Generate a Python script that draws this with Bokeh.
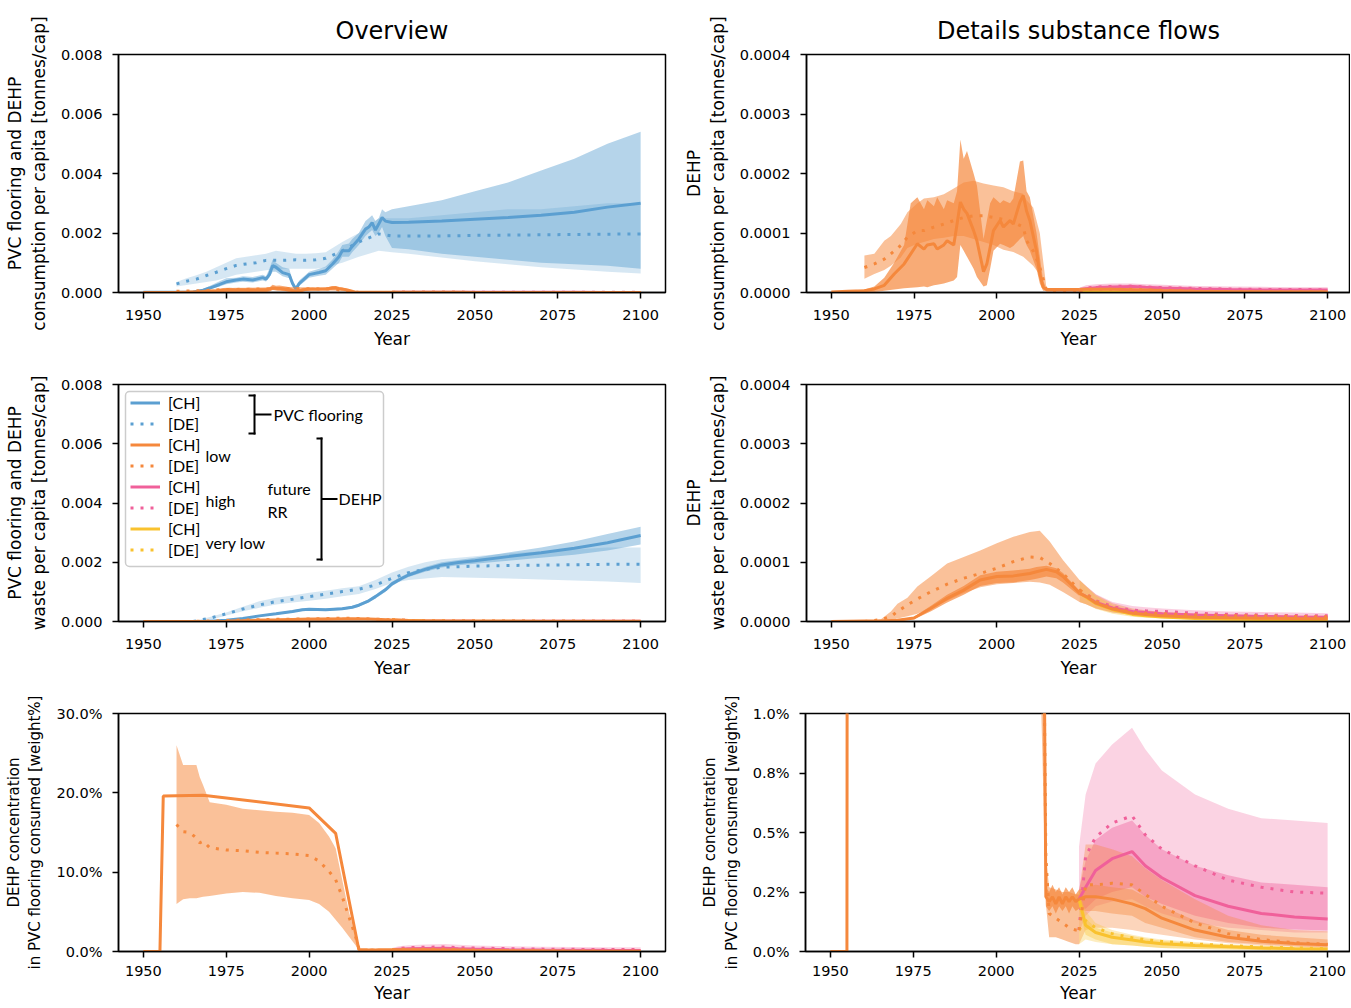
from bokeh.plotting import figure
from bokeh.layouts import column, row
from bokeh.models import (FixedTicker, NumeralTickFormatter, Range1d, Legend, LegendItem,
                          BoxAnnotation, Label)
from bokeh.embed import file_html
from bokeh.resources import INLINE

# ---------------------------------------------------------------- data
YEAR_TICKS = [1950, 1975, 2000, 2025, 2050, 2075, 2100]

# PVC flooring consumption per capita [t/cap]
pvc_con_ch_years = [1950, 1960, 1965, 1968, 1970, 1973, 1975, 1978, 1980, 1983, 1986, 1987, 1988, 1989, 1990,
                    1992, 1994, 1995, 1996, 1997, 1999, 2000, 2003, 2005, 2007, 2009, 2010, 2012, 2013, 2015,
                    2017, 2018, 2019, 2020, 2021, 2022, 2023, 2025, 2030, 2040, 2050, 2060, 2070, 2080, 2090, 2100]
pvc_con_ch = [0.00001, 0.00001, 0.00002, 0.00008, 0.00015, 0.00027, 0.00036, 0.00042, 0.00045, 0.00042,
              0.0005, 0.00045, 0.0006, 0.0009, 0.00085, 0.00067, 0.0006, 0.0003, 0.00012, 0.0003,
              0.0005, 0.0006, 0.00067, 0.00073, 0.00095, 0.0012, 0.0014, 0.0014, 0.00155, 0.0018,
              0.00213, 0.0022, 0.00235, 0.0021, 0.0023, 0.00252, 0.0024, 0.00235, 0.00236, 0.0024,
              0.00246, 0.00252, 0.0026, 0.0027, 0.00287, 0.003]
pvc_con_ch_lo = [0, 0, 0.00001, 0.00004, 0.0001, 0.0002, 0.00028, 0.00034, 0.00036, 0.00034,
                 0.0004, 0.00037, 0.0005, 0.0007, 0.0007, 0.00055, 0.00048, 0.0002, 0.00005, 0.00022,
                 0.0004, 0.0005, 0.00056, 0.0006, 0.0008, 0.001, 0.0012, 0.0012, 0.00135, 0.0016,
                 0.0019, 0.002, 0.0021, 0.0019, 0.002, 0.0022, 0.0019, 0.0015, 0.00145, 0.0013,
                 0.0012, 0.0011, 0.001, 0.00095, 0.0009, 0.0008]
pvc_con_ch_hi = [0.00002, 0.00002, 0.00004, 0.00012, 0.00022, 0.00038, 0.00048, 0.0005, 0.00055, 0.00052,
                 0.0006, 0.00055, 0.0008, 0.0011, 0.001, 0.00085, 0.0008, 0.0004, 0.0002, 0.0004,
                 0.0006, 0.0007, 0.0008, 0.00087, 0.0011, 0.0014, 0.0016, 0.00165, 0.0018, 0.002,
                 0.0024, 0.0025, 0.0026, 0.0024, 0.0025, 0.0028, 0.0027, 0.0028, 0.0029, 0.0031,
                 0.0034, 0.0037, 0.0041, 0.0045, 0.005, 0.0054]
pvc_con_de_years = [1960, 1963, 1966, 1969, 1972, 1975, 1978, 1981, 1984, 1987, 1990, 1993, 1996, 1999,
                    2002, 2005, 2010, 2015, 2021, 2025, 2030, 2040, 2050, 2060, 2070, 2080, 2090, 2100]
pvc_con_de = [0.00029, 0.00038, 0.00045, 0.00057, 0.00068, 0.0008, 0.00091, 0.00096, 0.001, 0.00108,
              0.00108, 0.00108, 0.0011, 0.00108, 0.0011, 0.00115, 0.0014, 0.0017, 0.00197, 0.0019,
              0.0019, 0.0019, 0.00192, 0.00193, 0.00194, 0.00195, 0.00196, 0.00197]
pvc_con_de_lo = [0.0002, 0.00025, 0.0003, 0.00035, 0.0004, 0.0005, 0.0006, 0.00065, 0.0007, 0.00075,
                 0.00078, 0.0008, 0.0008, 0.0008, 0.0008, 0.00085, 0.001, 0.0012, 0.0014, 0.00135,
                 0.0013, 0.00118, 0.00105, 0.00095, 0.00085, 0.00077, 0.0007, 0.00064]
pvc_con_de_hi = [0.00035, 0.00048, 0.00058, 0.0007, 0.00085, 0.001, 0.00115, 0.0012, 0.00125, 0.0013,
                 0.0014, 0.00135, 0.0013, 0.0013, 0.00132, 0.00135, 0.0017, 0.002, 0.0025, 0.0025,
                 0.0025, 0.0026, 0.0027, 0.0028, 0.0028, 0.0029, 0.003, 0.003]

# PVC flooring waste per capita [t/cap]
pvc_was_ch_years = [1950, 1965, 1970, 1975, 1980, 1985, 1990, 1995, 1998, 2000, 2005, 2010, 2013, 2015, 2018,
                    2020, 2023, 2025, 2028, 2030, 2035, 2040, 2045, 2050, 2060, 2070, 2080, 2090, 2100]
pvc_was_ch = [0, 0, 0.00001, 0.00004, 0.0001, 0.00019, 0.00026, 0.00034, 0.0004, 0.00041, 0.0004, 0.00043,
              0.00048, 0.00055, 0.0007, 0.00084, 0.00107, 0.00127, 0.00146, 0.00157, 0.00176, 0.00191,
              0.00199, 0.00205, 0.00219, 0.00232, 0.00247, 0.00266, 0.0029]
pvc_was_ch_lo = [0, 0, 0, 0.00003, 0.00008, 0.00016, 0.00023, 0.0003, 0.00036, 0.00037, 0.00036, 0.00039,
                 0.00044, 0.0005, 0.00065, 0.00078, 0.001, 0.0012, 0.00139, 0.0015, 0.00168, 0.00182,
                 0.0019, 0.00195, 0.00205, 0.00215, 0.00225, 0.0024, 0.0026]
pvc_was_ch_hi = [0, 0.00001, 0.00002, 0.00005, 0.00012, 0.00022, 0.00029, 0.00038, 0.00044, 0.00045,
                 0.00044, 0.00047, 0.00052, 0.0006, 0.00075, 0.0009, 0.00114, 0.00134, 0.00153, 0.00164,
                 0.00184, 0.002, 0.00208, 0.00215, 0.00233, 0.0025, 0.0027, 0.00295, 0.0032]
pvc_was_de_years = [1965, 1970, 1975, 1980, 1985, 1990, 1995, 2000, 2005, 2010, 2015, 2020, 2025, 2030,
                    2035, 2040, 2050, 2060, 2075, 2090, 2100]
pvc_was_de = [0, 0.00011, 0.00026, 0.00042, 0.00056, 0.00067, 0.00075, 0.00084, 0.00092, 0.00101, 0.00109,
              0.00123, 0.00146, 0.00165, 0.00176, 0.00183, 0.00187, 0.00189, 0.00191, 0.00193, 0.00193]
pvc_was_de_lo = [0, 0.00005, 0.0002, 0.00035, 0.00046, 0.00057, 0.00064, 0.0007, 0.00077, 0.00085, 0.00093,
                 0.0011, 0.0013, 0.0014, 0.00145, 0.0015, 0.00148, 0.00145, 0.0014, 0.00135, 0.0013]
pvc_was_de_hi = [0, 0.00015, 0.0003, 0.0005, 0.00068, 0.0008, 0.00088, 0.00097, 0.00104, 0.00112, 0.00119,
                 0.0014, 0.00165, 0.00185, 0.002, 0.0021, 0.0022, 0.0023, 0.0024, 0.0025, 0.0025]

# DEHP consumption per capita [t/cap], historic
dehp_con_ch_years = [1950, 1955, 1960, 1963, 1966, 1969, 1972, 1974, 1976, 1978, 1979, 1981, 1982, 1984, 1985,
                     1987, 1988, 1989, 1990, 1991, 1993, 1994, 1996, 1997, 1998, 1999, 2001, 2002, 2004, 2005,
                     2007, 2008, 2009, 2010, 2012, 2013, 2014, 2015, 2020, 2025]
dehp_con_ch = [0.000001, 0.000002, 0.000003, 0.000006, 0.000012, 0.000031, 0.000048, 0.000065, 0.000082,
               0.000073, 0.00008, 0.000082, 0.000073, 0.00008, 0.000087, 0.00008, 0.000115, 0.000152,
               0.00014, 0.000133, 0.000104, 0.000087, 0.000035, 0.000048, 0.000076, 0.000104, 0.000121,
               0.00011, 0.000121, 0.000115, 0.000152, 0.000163, 0.000137, 0.000121, 0.00007, 0.000031,
               0.000009, 0.000005, 0.000005, 0.000005]
dehp_con_ch_lo = [0, 0, 0, 0.000001, 0.000003, 0.000005, 0.000007, 0.000008, 0.000009, 0.00001, 0.000009,
                  0.000012, 0.000013, 0.000015, 0.000017, 0.00002, 0.000026, 0.00008, 0.00007, 0.00006,
                  0.00004, 0.000026, 0.00001, 0.000012, 0.00004, 0.00007, 0.000082, 0.00008, 0.000075,
                  0.000078, 0.00009, 0.000095, 0.00008, 0.00007, 0.00004, 0.000015, 0.000003, 0.000003,
                  0.000003, 0.000003]
dehp_con_ch_hi = [0.000002, 0.000003, 0.000005, 0.00001, 0.000025, 0.00005, 0.00008, 0.00015, 0.00016,
                  0.00014, 0.000155, 0.000145, 0.00016, 0.00014, 0.000155, 0.00015, 0.00017, 0.000257,
                  0.000225, 0.000238, 0.0002, 0.00018, 0.00009, 0.00012, 0.00015, 0.00016, 0.00015,
                  0.000155, 0.00015, 0.000158, 0.00022, 0.000222, 0.00017, 0.00016, 0.0001, 0.00006,
                  0.00002, 0.000006, 0.000007, 0.000007]
dehp_con_de_years = [1960, 1963, 1966, 1968, 1971, 1973, 1976, 1978, 1981, 1984, 1987, 1990, 1993, 1996,
                     1999, 2002, 2005, 2008, 2009, 2011, 2013, 2015, 2020, 2025]
dehp_con_de = [0.000042, 0.000048, 0.000056, 0.000065, 0.000079, 0.000093, 0.000104, 0.000104, 0.00011,
               0.000115, 0.000121, 0.000126, 0.000129, 0.000129, 0.000126, 0.000123, 0.000118, 0.00011,
               0.000087, 0.00007, 0.0000425, 0.000004, 0.000002, 0.0000017]
dehp_con_de_lo = [0.000023, 0.000031, 0.000038, 0.000045, 0.000059, 0.000075, 0.000082, 0.000085, 0.00009,
                  0.000092, 0.000095, 0.000095, 0.00009, 0.000085, 0.00008, 0.000072, 0.000068, 0.00006,
                  0.000055, 0.000045, 0.00003, 0.000001, 0.000001, 0.000001]
dehp_con_de_hi = [0.000062, 0.000065, 0.000087, 0.000095, 0.000115, 0.000135, 0.00015, 0.000158, 0.00016,
                  0.000165, 0.000175, 0.000185, 0.000188, 0.000183, 0.00018, 0.000177, 0.00017, 0.000166,
                  0.000155, 0.000143, 0.0001, 0.000008, 0.000004, 0.000003]

# DEHP waste per capita [t/cap], historic
dehp_was_ch_years = [1950, 1960, 1965, 1970, 1975, 1980, 1985, 1990, 1995, 2000, 2005, 2010, 2012, 2015,
                     2018, 2020, 2025]
dehp_was_ch = [0, 0.000001, 0.000001, 0.000002, 0.000006, 0.000022, 0.000039, 0.000053, 0.00007, 0.000076,
               0.000077, 0.000081, 0.000084, 0.000088, 0.000084, 0.000076, 0.000048]
dehp_was_ch_lo = [0, 0, 0, 0.000001, 0.000004, 0.000017, 0.000032, 0.000045, 0.00006, 0.000065, 0.000066,
                  0.00007, 0.000072, 0.000076, 0.000073, 0.000066, 0.000043]
dehp_was_ch_hi = [0, 0.000001, 0.000002, 0.000003, 0.000008, 0.000026, 0.000045, 0.00006, 0.000078,
                  0.000084, 0.000086, 0.000089, 0.000092, 0.000094, 0.00009, 0.000082, 0.000052]
dehp_was_de_years = [1960, 1965, 1968, 1970, 1973, 1976, 1980, 1985, 1990, 1995, 2000, 2005, 2010, 2013,
                     2016, 2020, 2025]
dehp_was_de = [0, 0.000003, 0.0000085, 0.000017, 0.000028, 0.000038, 0.00005, 0.000063, 0.000073, 0.000081,
               0.00009, 0.000101, 0.000109, 0.000108, 0.000098, 0.000081, 0.000053]
dehp_was_de_lo = [0, 0, 0.000002, 0.000005, 0.000009, 0.000013, 0.000022, 0.000035, 0.000048, 0.000058,
                  0.000063, 0.000065, 0.000067, 0.000066, 0.000062, 0.00005, 0.000033]
dehp_was_de_hi = [0, 0.000004, 0.000017, 0.00003, 0.00004, 0.000059, 0.000076, 0.000098, 0.000109, 0.00012,
                  0.000132, 0.000143, 0.000151, 0.000153, 0.000135, 0.000104, 0.00007]

# DEHP concentration in PVC flooring consumed [weight fraction], historic
conc_ch_years = [1950, 1955, 1956, 1968, 2000, 2008, 2015, 2016, 2017, 2018, 2019, 2020, 2021, 2022, 2023,
                 2024, 2025]
conc_ch = [0, 0, 0.196, 0.197, 0.181, 0.149, 0.0023, 0.0021, 0.0023, 0.002, 0.0023, 0.002, 0.0023, 0.0021,
           0.0023, 0.0021, 0.0022]
conc_ch_band_years = [2015, 2016, 2017, 2018, 2019, 2020, 2021, 2022, 2023, 2024, 2025]
conc_ch_lo = [0.0019, 0.0017, 0.0019, 0.0016, 0.0019, 0.0017, 0.0019, 0.0016, 0.0019, 0.0017, 0.0018]
conc_ch_hi = [0.0027, 0.0025, 0.0028, 0.0025, 0.0027, 0.0024, 0.0027, 0.0025, 0.0027, 0.0024, 0.0026]
conc_de_years = [1960, 1962, 1964, 1966, 1967, 1968, 1970, 1975, 1980, 1985, 1990, 1995, 2000, 2003, 2006,
                 2008, 2010, 2012, 2014, 2015, 2016, 2018, 2020, 2022, 2024, 2025]
conc_de = [0.16, 0.151, 0.15, 0.143, 0.137, 0.139, 0.131, 0.128, 0.127, 0.125, 0.124, 0.123, 0.121, 0.114,
           0.101, 0.0905, 0.069, 0.044, 0.019, 0.004, 0.0016, 0.0014, 0.0012, 0.001, 0.0009, 0.0009]
conc_de_lo = [0.06, 0.066, 0.067, 0.067, 0.068, 0.069, 0.07, 0.073, 0.075, 0.074, 0.07, 0.067, 0.065, 0.06,
              0.05, 0.04, 0.03, 0.019, 0.008, 0.002, 0.0006, 0.0006, 0.0005, 0.0004, 0.0003, 0.0003]
conc_de_hi = [0.26, 0.235, 0.235, 0.235, 0.22, 0.21, 0.188, 0.185, 0.18, 0.178, 0.176, 0.175, 0.172, 0.162,
              0.145, 0.13, 0.09, 0.05, 0.02, 0.004, 0.0027, 0.0026, 0.0025, 0.0025, 0.0024, 0.0024]

# future recycling-rate scenarios (low / high / very low), common years
fut_years = [2025, 2027, 2030, 2035, 2041, 2045, 2050, 2060, 2070, 2080, 2090, 2100]

con_high_ch = [0.000005, 0.0000063, 0.0000082, 0.0000094, 0.00001, 0.0000087, 0.0000076, 0.0000059, 0.0000049, 0.0000044, 0.0000042, 0.0000041]
con_high_de = [0.0000017, 0.0000077, 0.0000093, 0.0000103, 0.0000108, 0.0000093, 0.0000082, 0.0000068, 0.0000058, 0.0000052, 0.0000049, 0.0000048]
con_low_ch = [0.000005, 0.0000054, 0.0000055, 0.0000053, 0.0000048, 0.0000043, 0.0000034, 0.0000023, 0.0000015, 0.0000011, 0.0000009, 0.0000008]
con_low_de = [0.0000017, 0.0000053, 0.0000053, 0.0000055, 0.0000053, 0.0000046, 0.0000036, 0.0000023, 0.0000015, 0.000001, 0.0000007, 0.0000006]
con_vlow_ch = [0.000005, 0.0000026, 0.0000019, 0.0000014, 0.0000012, 0.000001, 0.0000008, 0.0000006, 0.0000005, 0.0000004, 0.0000003, 0.0000003]
con_vlow_de = [0.0000017, 0.0000025, 0.0000019, 0.0000014, 0.0000011, 0.000001, 0.0000008, 0.0000006, 0.0000005, 0.0000004, 0.0000003, 0.0000002]
con_high_lo = [0.000003, 0.0000035, 0.000004, 0.0000045, 0.0000048, 0.0000043, 0.0000037, 0.000003, 0.0000025, 0.0000022, 0.000002, 0.000002]
con_high_hi = [0.000008, 0.000012, 0.000014, 0.000015, 0.000015, 0.000014, 0.000013, 0.000011, 0.00001, 0.0000095, 0.000009, 0.0000088]
con_low_lo = [0.000001, 0.0000015, 0.0000016, 0.0000016, 0.0000015, 0.0000013, 0.000001, 0.0000007, 0.0000005, 0.0000004, 0.0000003, 0.0000002]
con_low_hi = [0.000008, 0.0000085, 0.0000085, 0.000008, 0.0000075, 0.0000067, 0.0000055, 0.0000038, 0.0000026, 0.000002, 0.0000017, 0.0000016]
con_vlow_lo = [0.000001, 0.0000012, 0.0000009, 0.0000007, 0.0000006, 0.0000005, 0.0000004, 0.0000003, 0.00000025, 0.0000002, 0.00000015, 0.0000001]
con_vlow_hi = [0.000008, 0.0000045, 0.0000035, 0.0000027, 0.0000022, 0.000002, 0.0000017, 0.0000013, 0.000001, 0.0000008, 0.0000007, 0.0000006]

was_high_ch = [0.000048, 0.000042, 0.000032, 0.000023, 0.000017, 0.000015, 0.000013, 0.000011, 0.0000095, 0.0000085, 0.0000078, 0.0000072]
was_high_de = [0.000053, 0.000047, 0.000035, 0.000025, 0.000019, 0.000018, 0.000017, 0.000014, 0.000012, 0.000011, 0.00001, 0.0000095]
was_low_ch = [0.000048, 0.000042, 0.000031, 0.000021, 0.000014, 0.000012, 0.0000095, 0.0000073, 0.0000063, 0.0000056, 0.000005, 0.0000045]
was_low_de = [0.000053, 0.000046, 0.000034, 0.000022, 0.000016, 0.000014, 0.000013, 0.000011, 0.00001, 0.0000095, 0.0000085, 0.0000079]
was_vlow_ch = [0.000048, 0.000041, 0.00003, 0.00002, 0.000012, 0.0000095, 0.0000075, 0.000005, 0.000004, 0.0000035, 0.000003, 0.0000026]
was_vlow_de = [0.000053, 0.000046, 0.000033, 0.00002, 0.000013, 0.000011, 0.0000088, 0.0000064, 0.0000052, 0.0000045, 0.000004, 0.0000036]
was_high_lo = [0.000033, 0.000029, 0.000022, 0.000015, 0.000011, 0.0000095, 0.0000085, 0.000007, 0.000006, 0.0000055, 0.000005, 0.0000048]
was_high_hi = [0.00007, 0.00006, 0.000046, 0.000033, 0.000026, 0.000024, 0.000022, 0.000019, 0.000017, 0.000016, 0.000015, 0.000014]
was_low_lo = [0.000033, 0.000029, 0.000022, 0.000015, 0.000011, 0.0000085, 0.000007, 0.0000055, 0.0000048, 0.0000044, 0.000004, 0.0000037]
was_low_hi = [0.00007, 0.00006, 0.000045, 0.000031, 0.000022, 0.000019, 0.000016, 0.000013, 0.000012, 0.000011, 0.00001, 0.0000095]
was_vlow_lo = [0.000033, 0.000029, 0.000021, 0.000013, 0.000008, 0.0000065, 0.000005, 0.0000035, 0.000003, 0.0000025, 0.0000022, 0.000002]
was_vlow_hi = [0.00007, 0.000059, 0.000043, 0.000028, 0.000018, 0.000014, 0.000011, 0.000008, 0.0000065, 0.0000057, 0.0000052, 0.0000048]

conc_high_ch = [0.0022, 0.0027, 0.0034, 0.0039, 0.0042, 0.0036, 0.0031, 0.00235, 0.0019, 0.0016, 0.00145, 0.00137]
conc_high_de = [0.0009, 0.004, 0.0048, 0.0054, 0.0057, 0.0049, 0.0043, 0.0036, 0.003, 0.0027, 0.0025, 0.00245]
conc_low_ch = [0.0022, 0.0023, 0.0023, 0.0022, 0.002, 0.0018, 0.0014, 0.0009, 0.0006, 0.00043, 0.00034, 0.00028]
conc_low_de = [0.0009, 0.0028, 0.0028, 0.00287, 0.0028, 0.0024, 0.0019, 0.0012, 0.00075, 0.0005, 0.00037, 0.0003]
conc_vlow_ch = [0.0022, 0.0011, 0.0008, 0.0006, 0.00048, 0.0004, 0.00033, 0.00025, 0.0002, 0.00015, 0.00012, 0.0001]
conc_vlow_de = [0.0009, 0.0013, 0.001, 0.00075, 0.00058, 0.0005, 0.00042, 0.00032, 0.00025, 0.00019, 0.00015, 0.00012]
conc_high_de_lo = [0.0008, 0.0015, 0.0019, 0.0021, 0.0022, 0.0019, 0.0016, 0.0012, 0.001, 0.0009, 0.0008, 0.0008]
conc_high_de_hi = [0.0044, 0.0066, 0.0079, 0.0087, 0.0094, 0.0085, 0.0076, 0.0066, 0.006, 0.0056, 0.0055, 0.0054]
conc_high_ch_lo = [0.0018, 0.0018, 0.0022, 0.0025, 0.0027, 0.0023, 0.002, 0.0015, 0.0012, 0.001, 0.00092, 0.00088]
conc_high_ch_hi = [0.0026, 0.0038, 0.0047, 0.0052, 0.0055, 0.0049, 0.0043, 0.0036, 0.0032, 0.0029, 0.0028, 0.0027]
conc_low_de_lo = [0.0003, 0.0009, 0.001, 0.001, 0.0009, 0.0008, 0.0007, 0.0005, 0.00035, 0.00025, 0.0002, 0.00015]
conc_low_de_hi = [0.0025, 0.0045, 0.0045, 0.0043, 0.004, 0.0035, 0.003, 0.0022, 0.0015, 0.0011, 0.0009, 0.00085]
conc_low_ch_lo = [0.0018, 0.0017, 0.0017, 0.0016, 0.0015, 0.0012, 0.001, 0.0006, 0.0004, 0.0003, 0.00022, 0.00018]
conc_low_ch_hi = [0.0026, 0.0027, 0.0028, 0.0027, 0.0026, 0.0023, 0.0019, 0.0013, 0.0009, 0.0007, 0.0006, 0.0005]
conc_vlow_de_lo = [0.0003, 0.0005, 0.0004, 0.0003, 0.00025, 0.0002, 0.00015, 0.0001, 0.00008, 0.00006, 0.00005, 0.00004]
conc_vlow_de_hi = [0.0025, 0.0017, 0.0012, 0.0009, 0.0007, 0.0006, 0.0005, 0.0004, 0.0003, 0.00025, 0.0002, 0.00018]
conc_vlow_ch_lo = [0.0018, 0.0007, 0.0005, 0.0003, 0.00025, 0.0002, 0.00015, 0.0001, 0.00008, 0.00006, 0.00005, 0.00004]
conc_vlow_ch_hi = [0.0026, 0.0014, 0.001, 0.0008, 0.00065, 0.00055, 0.00045, 0.00035, 0.00028, 0.00022, 0.00018, 0.00015]

# ---------------------------------------------------------------- style
FONT = "DejaVu Sans"
LFONT = "Lato"
BLUE = "#5b9fd1"
ORANGE = "#f5883c"
PINK = "#f0609a"
YELLOW = "#f9c22e"
DOT = "3 7"
LW = 3

X0 = 1942.5
XL_END = 2107.5

WL, WR = 680, 670
BL_L, BR_L, BL_R, BR_R = 118, 15, 125, 0
FW = WL - BL_L - BR_L
XR_END = X0 + (WR - BL_R - BR_R) * (XL_END - X0) / FW
H1, H2, H3 = 354, 330, 323


def make_fig(w, h, bl, br, bt, bb, x_end, y_end, yticks, ylabel, yfmt, overrides=None,
             title=None, xstand=(11, 6), ylab_size="17px"):
    kw = dict(width=w, height=h, x_range=Range1d(X0, x_end), y_range=Range1d(0, y_end),
              output_backend="svg", toolbar_location=None,
              min_border_left=bl, min_border_right=br, min_border_top=bt, min_border_bottom=bb)
    if title:
        kw["title"] = title
    p = figure(**kw)
    p.xgrid.visible = False
    p.ygrid.visible = False
    p.outline_line_color = "black"
    p.outline_line_width = 1.5
    p.outline_line_alpha = 1
    p.background_fill_color = "white"
    p.border_fill_color = "white"
    p.xaxis.ticker = FixedTicker(ticks=YEAR_TICKS)
    p.yaxis.ticker = FixedTicker(ticks=yticks)
    p.yaxis.formatter = NumeralTickFormatter(format=yfmt)
    if overrides:
        p.yaxis.major_label_overrides = overrides
    for ax in (p.xaxis[0], p.yaxis[0]):
        ax.axis_line_width = 1.5
        ax.axis_line_color = "black"
        ax.major_tick_line_width = 1.5
        ax.major_tick_line_color = "black"
        ax.major_tick_out = 6
        ax.major_tick_in = 0
        ax.minor_tick_line_color = None
        ax.major_label_text_font = FONT
        ax.major_label_text_font_size = "14.5px"
        ax.major_label_text_color = "black"
        ax.axis_label_text_font = FONT
        ax.axis_label_text_font_size = "17px"
        ax.axis_label_text_font_style = "normal"
        ax.axis_label_text_color = "black"
    p.yaxis.axis_label_text_font_size = ylab_size
    p.xaxis.axis_label = "Year"
    p.xaxis.major_label_standoff = xstand[0]
    p.xaxis.axis_label_standoff = xstand[1]
    p.yaxis.axis_label = ylabel
    p.yaxis.major_label_standoff = 10
    p.yaxis.axis_label_standoff = 9
    if title:
        p.title.align = "center"
        p.title.text_font = FONT
        p.title.text_font_size = "24px"
        p.title.text_font_style = "normal"
        p.title.text_color = "black"
        p.title.standoff = 19
    return p


def draw_blue(p, chx, ch, chlo, chhi, dex, de, delo, dehi):
    p.varea(x=chx, y1=chlo, y2=chhi, fill_color=BLUE, fill_alpha=0.45)
    p.varea(x=dex, y1=delo, y2=dehi, fill_color=BLUE, fill_alpha=0.25)
    r_ch = p.line(chx, ch, line_color=BLUE, line_width=LW)
    r_de = p.line(dex, de, line_color=BLUE, line_width=LW, line_dash=DOT)
    return r_ch, r_de


def draw_dehp(p, hist, fut_bands, fut_lines):
    chx, ch, chbx, chlo, chhi, dex, de, delo, dehi = hist
    for lo, hi, color, alpha in fut_bands:
        p.varea(x=fut_years, y1=lo, y2=hi, fill_color=color, fill_alpha=alpha)
    p.varea(x=dex, y1=delo, y2=dehi, fill_color=ORANGE, fill_alpha=0.52)
    p.varea(x=chbx, y1=chlo, y2=chhi, fill_color=ORANGE, fill_alpha=0.7)
    rends = {}
    for name, ych, yde, color in fut_lines:
        rends[name + "_de"] = p.line(fut_years, yde, line_color=color, line_width=LW, line_dash=DOT)
        rends[name + "_ch"] = p.line(fut_years, ych, line_color=color, line_width=LW)
    rends["low_de"] = p.line(dex, de, line_color=ORANGE, line_width=LW, line_dash=DOT)
    rends["low_ch"] = p.line(chx, ch, line_color=ORANGE, line_width=LW)
    return rends


con_hist = (dehp_con_ch_years, dehp_con_ch, dehp_con_ch_years, dehp_con_ch_lo, dehp_con_ch_hi,
            dehp_con_de_years, dehp_con_de, dehp_con_de_lo, dehp_con_de_hi)
con_bands = [(con_high_lo, con_high_hi, PINK, 0.35), (con_low_lo, con_low_hi, ORANGE, 0.4),
             (con_vlow_lo, con_vlow_hi, YELLOW, 0.35)]
con_lines = [("high", con_high_ch, con_high_de, PINK), ("vlow", con_vlow_ch, con_vlow_de, YELLOW),
             ("low", con_low_ch, con_low_de, ORANGE)]

was_hist = (dehp_was_ch_years, dehp_was_ch, dehp_was_ch_years, dehp_was_ch_lo, dehp_was_ch_hi,
            dehp_was_de_years, dehp_was_de, dehp_was_de_lo, dehp_was_de_hi)
was_bands = [(was_high_lo, was_high_hi, PINK, 0.3), (was_low_lo, was_low_hi, ORANGE, 0.4),
             (was_vlow_lo, was_vlow_hi, YELLOW, 0.35)]
was_lines = [("high", was_high_ch, was_high_de, PINK), ("vlow", was_vlow_ch, was_vlow_de, YELLOW),
             ("low", was_low_ch, was_low_de, ORANGE)]

conc_hist = (conc_ch_years, conc_ch, conc_ch_band_years, conc_ch_lo, conc_ch_hi,
             conc_de_years, conc_de, conc_de_lo, conc_de_hi)
conc_bands = [(conc_high_de_lo, conc_high_de_hi, PINK, 0.28), (conc_high_ch_lo, conc_high_ch_hi, PINK, 0.4),
              (conc_low_de_lo, conc_low_de_hi, ORANGE, 0.35), (conc_low_ch_lo, conc_low_ch_hi, ORANGE, 0.4),
              (conc_vlow_de_lo, conc_vlow_de_hi, YELLOW, 0.3), (conc_vlow_ch_lo, conc_vlow_ch_hi, YELLOW, 0.35)]
conc_lines = [("high", conc_high_ch, conc_high_de, PINK), ("vlow", conc_vlow_ch, conc_vlow_de, YELLOW),
              ("low", conc_low_ch, conc_low_de, ORANGE)]

# ---------------------------------------------------------------- figures
T_PVC = [0, 0.002, 0.004, 0.006, 0.008]
T_DEHP = [0, 0.0001, 0.0002, 0.0003, 0.0004]
T_C30 = [0, 0.1, 0.2, 0.3]
T_C1 = [0, 0.0025, 0.005, 0.0075, 0.01]
C1_LABELS = {0: "0.0%", 0.0025: "0.2%", 0.005: "0.5%", 0.0075: "0.8%", 0.01: "1.0%"}

p1 = make_fig(WL, H1, BL_L, BR_L, 54, 62, XL_END, 0.008, T_PVC,
              "PVC flooring and DEHP\nconsumption per capita [tonnes/cap]", "0.000", title="Overview")
draw_blue(p1, pvc_con_ch_years, pvc_con_ch, pvc_con_ch_lo, pvc_con_ch_hi,
          pvc_con_de_years, pvc_con_de, pvc_con_de_lo, pvc_con_de_hi)
draw_dehp(p1, con_hist, con_bands, con_lines)

p2 = make_fig(WR, H1, BL_R, BR_R, 54, 62, XR_END, 0.0004, T_DEHP,
              "DEHP\nconsumption per capita [tonnes/cap]", "0.0000", title="Details substance flows")
draw_dehp(p2, con_hist, con_bands, con_lines)

p3 = make_fig(WL, H2, BL_L, BR_L, 30, 63, XL_END, 0.008, T_PVC,
              "PVC flooring and DEHP\nwaste per capita [tonnes/cap]", "0.000")
rb_ch, rb_de = draw_blue(p3, pvc_was_ch_years, pvc_was_ch, pvc_was_ch_lo, pvc_was_ch_hi,
                         pvc_was_de_years, pvc_was_de, pvc_was_de_lo, pvc_was_de_hi)
r3 = draw_dehp(p3, was_hist, was_bands, was_lines)

p4 = make_fig(WR, H2, BL_R, BR_R, 30, 63, XR_END, 0.0004, T_DEHP,
              "DEHP\nwaste per capita [tonnes/cap]", "0.0000")
draw_dehp(p4, was_hist, was_bands, was_lines)

p5 = make_fig(WL, H3, BL_L, BR_L, 29, 56, XL_END, 0.3, T_C30,
              "DEHP concentration\nin PVC flooring consumed [weight%]", "0.0%", xstand=(8, 4),
              ylab_size="15px")
draw_dehp(p5, conc_hist, conc_bands, conc_lines)

p6 = make_fig(WR, H3, BL_R, BR_R, 29, 56, XR_END, 0.01, T_C1,
              "DEHP concentration\nin PVC flooring consumed [weight%]", "0.0%", overrides=C1_LABELS,
              xstand=(8, 4), ylab_size="15px")
draw_dehp(p6, conc_hist, conc_bands, conc_lines)

# ---------------------------------------------------------------- legend (panel 3)
FH = H2 - 30 - 63
Y3_END = 0.008
ROW_H = 21
N_ROWS = 8


def fx(px):
    return X0 + px * (XL_END - X0) / FW


def fy(py):
    return Y3_END - py * Y3_END / FH


p3.add_layout(BoxAnnotation(left=fx(7), right=fx(265), top=fy(7), bottom=fy(182),
                            fill_color="white", fill_alpha=0.85, line_color="#cccccc",
                            line_width=1.5, line_alpha=1, border_radius=4))

items = [LegendItem(label="[CH]", renderers=[rb_ch]), LegendItem(label="[DE]", renderers=[rb_de]),
         LegendItem(label="[CH]", renderers=[r3["low_ch"]]), LegendItem(label="[DE]", renderers=[r3["low_de"]]),
         LegendItem(label="[CH]", renderers=[r3["high_ch"]]), LegendItem(label="[DE]", renderers=[r3["high_de"]]),
         LegendItem(label="[CH]", renderers=[r3["vlow_ch"]]), LegendItem(label="[DE]", renderers=[r3["vlow_de"]])]
legend = Legend(items=items, location=(12, FH - 7.5 - ROW_H * N_ROWS), margin=0, padding=0, spacing=0,
                glyph_width=30, glyph_height=ROW_H, label_height=ROW_H, label_standoff=8,
                label_text_font=LFONT, label_text_font_size="16px", label_text_color="black",
                border_line_alpha=0, background_fill_alpha=0)
p3.add_layout(legend, "center")


def hseg(p, x0, x1, y, t=2):
    p.add_layout(BoxAnnotation(left=fx(x0), right=fx(x1), top=fy(y - t / 2), bottom=fy(y + t / 2),
                               fill_color="black", fill_alpha=1, line_alpha=0))


def bracket(p, x, y0, y1, cap, tick):
    p.add_layout(BoxAnnotation(left=fx(x - 1), right=fx(x + 1), top=fy(y0), bottom=fy(y1),
                               fill_color="black", fill_alpha=1, line_alpha=0))
    hseg(p, x - cap, x + 1, y0 + 1)
    hseg(p, x - cap, x + 1, y1 - 1)
    hseg(p, x, x + tick, (y0 + y1) / 2)


bracket(p3, 136, 10, 50, 6, 17)
bracket(p3, 203, 53, 176, 5, 16)

for txt, px, py in [("PVC flooring", 155, 30), ("DEHP", 220, 114), ("low", 87, 71), ("high", 87, 116),
                    ("very low", 87, 158), ("future", 149, 104), ("RR", 149, 127)]:
    p3.add_layout(Label(x=fx(px), y=fy(py), text=txt, text_baseline="middle", text_align="left",
                        text_font=LFONT, text_font_size="16px", text_color="black"))

layout = column(row(p1, p2), row(p3, p4), row(p5, p6))
open("out.html", "w").write(file_html(layout, INLINE))
